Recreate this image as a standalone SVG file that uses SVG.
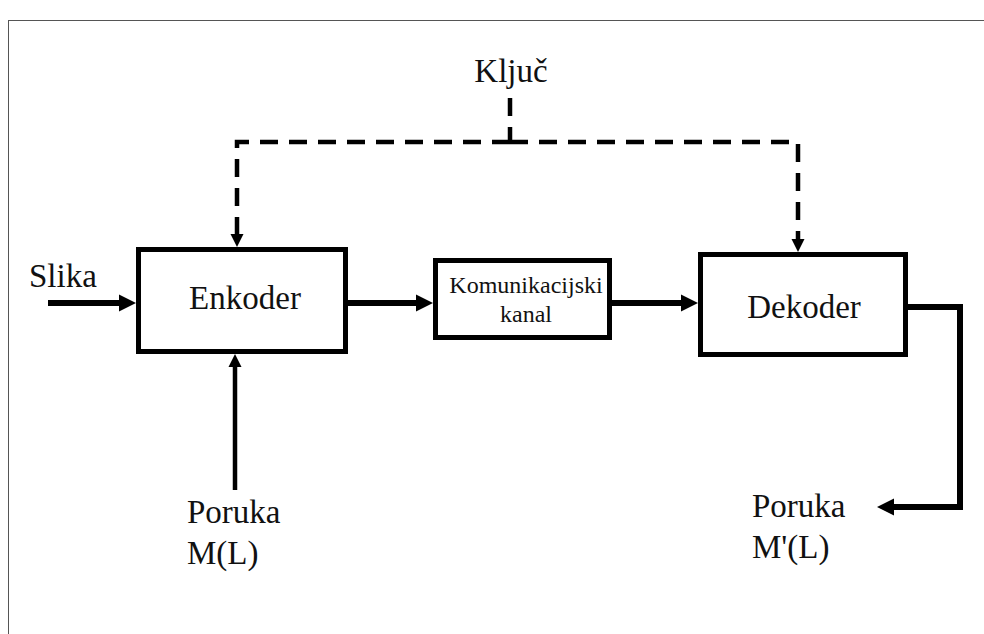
<svg xmlns="http://www.w3.org/2000/svg" width="984" height="634" viewBox="0 0 984 634">
<style>
.box{fill:#fff;stroke:#000;stroke-width:5}
.t{font-family:"Liberation Serif","Times New Roman",serif;fill:#111}
.big{font-size:33px}
.small{font-size:24px}
.solid{fill:none;stroke:#000;stroke-width:6}
.thin{fill:none;stroke:#000;stroke-width:4.5}
.dash{fill:none;stroke:#000;stroke-width:4.5;stroke-dasharray:18 11}
</style>
<defs>
<marker id="ah" markerUnits="userSpaceOnUse" markerWidth="18" markerHeight="18" refX="2" refY="8.5" orient="auto" viewBox="0 0 18 17">
<path d="M0,0 L17,8.5 L0,17 z" fill="#000"/>
</marker>
<marker id="ahs" markerUnits="userSpaceOnUse" markerWidth="14" markerHeight="14" refX="2" refY="6.5" orient="auto" viewBox="0 0 14 13">
<path d="M0,0 L13,6.5 L0,13 z" fill="#000"/>
</marker>
</defs>
<rect x="8.5" y="20.5" width="980" height="630" fill="none" stroke="#555" stroke-width="1"/>
<g id="connectors">
<path class="solid" d="M48,303 H121" marker-end="url(#ah)"/>
<path class="solid" d="M348,303 H418" marker-end="url(#ah)"/>
<path class="solid" d="M612,303 H683" marker-end="url(#ah)"/>
<path class="thin" d="M235,490 V365" marker-end="url(#ahs)"/>
<path class="solid" d="M908,307 H960 V507 H892" marker-end="url(#ah)"/>
<path class="dash" d="M510,98 V142"/>
<path class="dash" d="M510,142 H237 V236" marker-end="url(#ahs)"/>
<path class="dash" d="M510,142 H798 V241" marker-end="url(#ahs)"/>
</g>
<g id="enkoder">
<rect class="box" x="138.5" y="249.5" width="207" height="102"/>
<text class="t big" x="245" y="309" text-anchor="middle">Enkoder</text>
</g>
<g id="kanal">
<rect class="box" x="435.5" y="260.5" width="174" height="77"/>
<text class="t small" x="526" y="293" text-anchor="middle">Komunikacijski</text>
<text class="t small" x="526" y="322" text-anchor="middle">kanal</text>
</g>
<g id="dekoder">
<rect class="box" x="700.5" y="254.5" width="205" height="100"/>
<text class="t big" x="804" y="318" text-anchor="middle">Dekoder</text>
</g>
<g id="kljuc"><text class="t big" x="511" y="82" text-anchor="middle">Ključ</text></g>
<g id="slika"><text class="t big" x="29" y="287">Slika</text></g>
<g id="poruka-in"><text class="t big" x="187" y="523">Poruka</text><text class="t big" x="187" y="564">M(L)</text></g>
<g id="poruka-out"><text class="t big" x="752" y="517">Poruka</text><text class="t big" x="752" y="558">M'(L)</text></g>
</svg>
